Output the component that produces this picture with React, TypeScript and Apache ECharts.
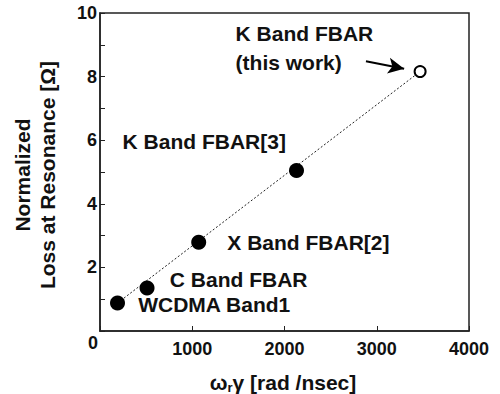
import React, { useEffect, useRef } from "react";
import * as echarts from "echarts";

const pointNames = ["WCDMA Band1", "C Band FBAR", "X Band FBAR[2]", "K Band FBAR[3]"];
const pointX = [190, 510, 1070, 2130];
const pointY = [0.88, 1.35, 2.79, 5.05];
const thisWorkX = [3470];
const thisWorkY = [8.16];
const fitLineX = [190, 3470];
const fitLineY = [0.88, 8.16];
const labelTexts = ["WCDMA Band1", "C Band FBAR", "X Band FBAR[2]", "K Band FBAR[3]", "K Band FBAR\n(this work)"];
const labelX = [414, 757, 1380, 245, 1470];
const labelY = [0.83, 1.61, 2.77, 5.96, 8.9];
const arrowFrom = [2883, 8.48];
const arrowTo = [3297, 8.25];
const xTicks = [0, 1000, 2000, 3000, 4000];
const yTicks = [0, 2, 4, 6, 8, 10];

const FONT = "'Liberation Sans', Arial, sans-serif";
const INK = "#111";

export default function App() {
  const ref = useRef<HTMLDivElement>(null);
  useEffect(() => {
    if (!ref.current) return;
    const chart = echarts.init(ref.current, undefined, { renderer: "svg" });
    chart.setOption({
      animation: false,
      backgroundColor: "#ffffff",
      textStyle: { fontFamily: FONT },
      grid: {
        left: 100,
        top: 13,
        right: 31,
        bottom: 63,
        show: true,
        borderColor: "#222",
        borderWidth: 1.5,
        backgroundColor: "transparent",
      },
      xAxis: {
        type: "value",
        min: xTicks[0],
        max: xTicks[xTicks.length - 1],
        interval: 1000,
        splitLine: { show: false },
        axisLine: { show: true, onZero: false, lineStyle: { color: "#222", width: 1.5 } },
        axisTick: { show: true, inside: true, length: 5, lineStyle: { color: "#222", width: 1 } },
        axisLabel: {
          margin: 9,
          color: INK,
          fontWeight: "bold",
          fontSize: 18,
          fontFamily: FONT,
          formatter: (v: number) => (v === 0 ? "" : String(v)),
        },
      },
      yAxis: {
        type: "value",
        min: yTicks[0],
        max: yTicks[yTicks.length - 1],
        interval: 1,
        splitLine: { show: false },
        axisLine: { show: true, onZero: false, lineStyle: { color: "#222", width: 1.5 } },
        axisTick: { show: true, inside: true, length: 5, lineStyle: { color: "#222", width: 1 } },
        axisLabel: {
          margin: 3,
          color: INK,
          fontWeight: "bold",
          fontSize: 18,
          fontFamily: FONT,
          formatter: (v: number) => (v !== 0 && yTicks.includes(v) ? String(v) : ""),
        },
      },
      graphic: [
        {
          type: "text",
          x: 93,
          y: 343,
          style: {
            text: "0",
            fill: INK,
            font: `bold 18px ${FONT}`,
            align: "center",
            verticalAlign: "middle",
          },
        },
        {
          type: "text",
          x: 283,
          y: 382,
          style: {
            text: "ω{sub|r}γ [rad /nsec]",
            fill: INK,
            font: `bold 21px ${FONT}`,
            align: "center",
            verticalAlign: "middle",
            rich: {
              sub: { fontSize: 13, fontWeight: "bold", fontFamily: FONT, fill: INK, padding: [10, 0, 0, 0] },
            },
          },
        },
        {
          type: "text",
          x: 35,
          y: 175,
          rotation: Math.PI / 2,
          style: {
            text: "Normalized\nLoss at Resonance [Ω]",
            fill: INK,
            font: `bold 21px ${FONT}`,
            align: "center",
            verticalAlign: "middle",
            lineHeight: 25,
          },
        },
      ],
      series: [
        {
          type: "line",
          data: fitLineX.map((x, i) => [x, fitLineY[i]]),
          symbol: "none",
          lineStyle: { color: "#222", width: 1, type: [2, 2] },
          z: 1,
          markLine: {
            silent: true,
            symbol: ["none", "arrow"],
            symbolSize: [12, 16],
            label: { show: false },
            lineStyle: { color: "#000", width: 2, type: "solid" },
            data: [[{ coord: arrowFrom }, { coord: arrowTo }]],
          },
        },
        {
          type: "scatter",
          name: "reported",
          data: pointX.map((x, i) => ({ value: [x, pointY[i]], name: pointNames[i] })),
          symbol: "circle",
          symbolSize: 15,
          itemStyle: { color: "#000", opacity: 1 },
          z: 3,
        },
        {
          type: "scatter",
          name: "this work",
          data: thisWorkX.map((x, i) => [x, thisWorkY[i]]),
          symbol: "circle",
          symbolSize: 11,
          itemStyle: { color: "#fff", borderColor: "#000", borderWidth: 2, opacity: 1 },
          z: 3,
        },
        {
          type: "scatter",
          name: "labels",
          data: labelX.map((x, i) => ({ value: [x, labelY[i]], label: { formatter: labelTexts[i] } })),
          symbolSize: 0,
          silent: true,
          itemStyle: { opacity: 1 },
          label: {
            show: true,
            position: "right",
            distance: 0,
            align: "left",
            verticalAlign: "middle",
            color: INK,
            opacity: 1,
            fontWeight: "bold",
            fontSize: 21,
            fontFamily: FONT,
            lineHeight: 29,
          },
          z: 4,
        },
      ],
    });
    return () => chart.dispose();
  }, []);
  return <div ref={ref} style={{ width: 500, height: 394, position: "absolute", left: 0, top: 0 }} />;
}
